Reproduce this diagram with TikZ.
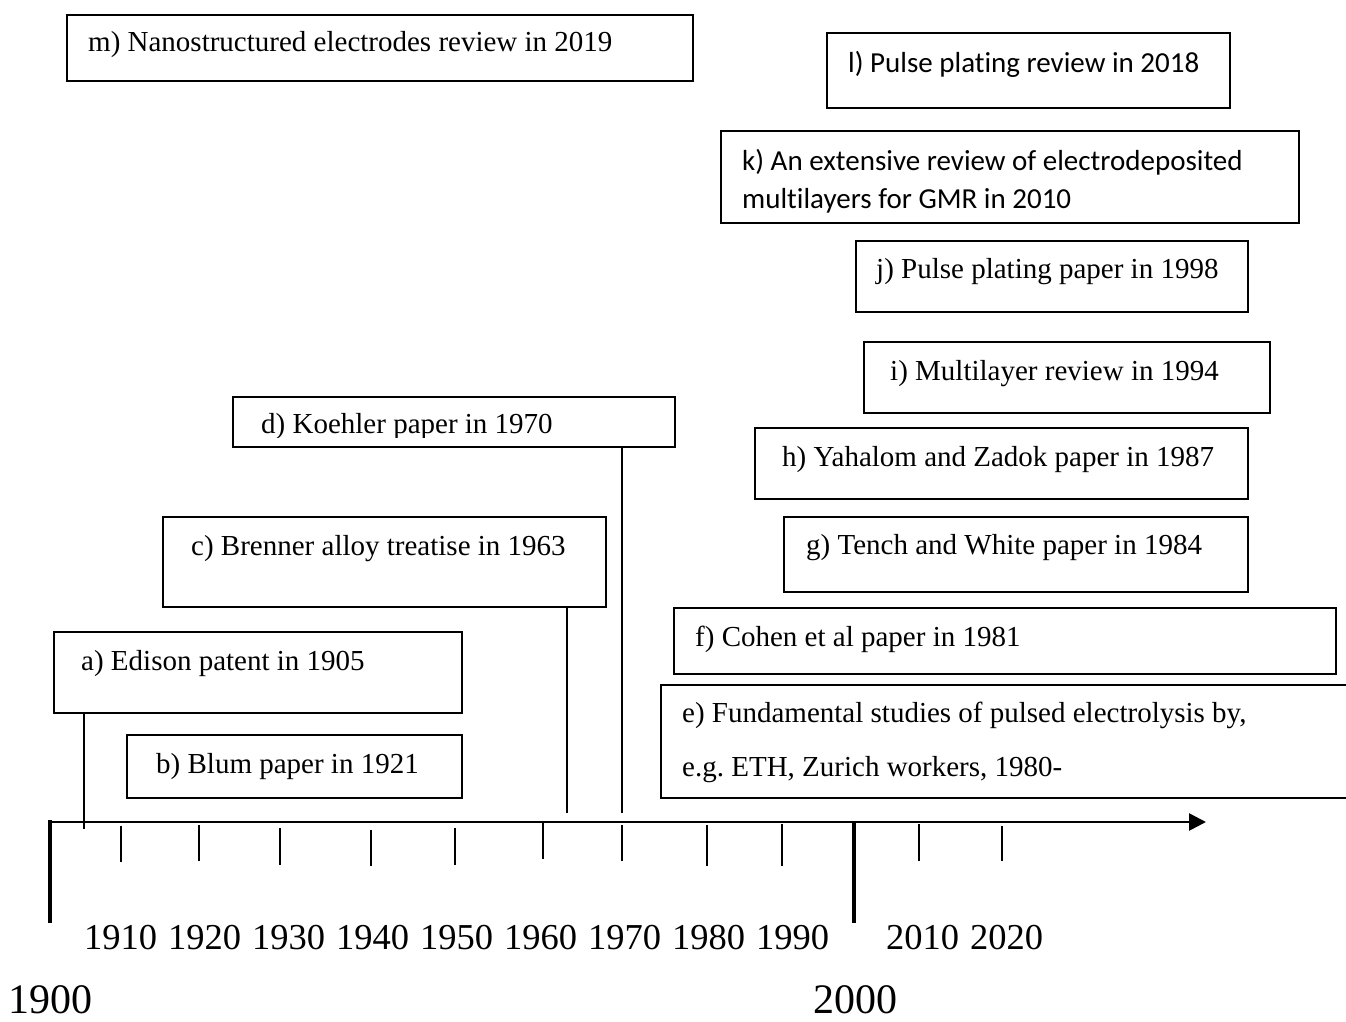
\documentclass[tikz,border=0pt]{standalone}
\usepackage{fontspec}
\setmainfont{Liberation Serif}
\newfontfamily\calib[Ligatures=NoCommon]{Carlito}
\usetikzlibrary{arrows.meta}
\frenchspacing
\begin{document}
\begin{tikzpicture}[x=1pt,y=-1pt,
  box/.style={draw=black, line width=2.2pt, rectangle, inner sep=0pt, anchor=north west},
  txt/.style={inner sep=0pt, anchor=base west, font=\fontsize{29}{35}\selectfont},
  stxt/.style={inner sep=0pt, anchor=base west, font=\calib\fontsize{29}{35}\selectfont},
  yr/.style={inner sep=0pt, anchor=base west, font=\fontsize{36.5}{44}\selectfont},
  bigyr/.style={inner sep=0pt, anchor=base west, font=\fontsize{42}{50}\selectfont},
  conn/.style={line width=1.8pt},
  tickmark/.style={line width=1.8pt},
  bigtick/.style={line width=3.6pt}
]
\clip (0,0) rectangle (1346,1022);
\fill[white] (0,0) rectangle (1346,1022);

% boxes
\node[box, minimum width=626pt, minimum height=66pt] (m) at (66,14) {};
\node[txt] (mt) at (88,52) {m) Nanostructured electrodes review in 2019};

\node[box, minimum width=403pt, minimum height=75pt] (l) at (826,32) {};
\node[stxt] (lt) at (848,73) {l) Pulse plating review in 2018};

\node[box, minimum width=578pt, minimum height=92pt] (k) at (720,130) {};
\node[stxt] (kt1) at (742,170) {k) An extensive review of electrodeposited};
\node[stxt] (kt2) at (742,208) {multilayers for GMR in 2010};

\node[box, minimum width=392pt, minimum height=71pt] (j) at (855,240) {};
\node[txt] (jt) at (876,278) {j) Pulse plating paper in 1998};

\node[box, minimum width=406pt, minimum height=71pt] (i) at (863,341) {};
\node[txt] (it) at (890,380) {i) Multilayer review in 1994};

\node[box, minimum width=442pt, minimum height=50pt] (d) at (232,396) {};
\begin{scope}
  \clip (234,398) rectangle (672,437);
  \node[txt] (dt) at (261,433) {d) Koehler paper in 1970};
\end{scope}

\node[box, minimum width=493pt, minimum height=71pt] (h) at (754,427) {};
\node[txt] (ht) at (782,466) {h) Yahalom and Zadok paper in 1987};

\node[box, minimum width=443pt, minimum height=90pt] (c) at (162,516) {};
\node[txt] (ct) at (191,555) {c) Brenner alloy treatise in 1963};

\node[box, minimum width=464pt, minimum height=75pt] (g) at (783,516) {};
\node[txt] (gt) at (806,554) {g) Tench and White paper in 1984};

\node[box, minimum width=662pt, minimum height=66pt] (f) at (673,607) {};
\node[txt] (ft) at (695,646) {f) Cohen et al paper in 1981};

\node[box, minimum width=408pt, minimum height=81pt] (a) at (53,631) {};
\node[txt] (at) at (81,670) {a) Edison patent in 1905};

\node[box, minimum width=730pt, minimum height=113pt] (e) at (660,684) {};
\node[txt] (et1) at (682,722) {e) Fundamental studies of pulsed electrolysis by,};
\node[txt] (et2) at (682,776) {e.g. ETH, Zurich workers, 1980-};

\node[box, minimum width=335pt, minimum height=63pt] (b) at (126,734) {};
\node[txt] (bt) at (156,773) {b) Blum paper in 1921};

% axis
\coordinate (O) at (50,822);
\coordinate (AxEnd) at (1206,822);
\coordinate (Y1900) at (50,923);
\coordinate (Y2000top) at (854,822);
\coordinate (Y2000) at (854,923);
\draw[bigtick] (Y1900) -- ([yshift=1.8pt]O);
\draw[line width=2.6pt, -{Triangle[length=17pt,width=17pt]}] (O) -- (AxEnd);
\draw[bigtick] (Y2000top) -- (Y2000);

% connectors from boxes to axis
\coordinate (aEnd) at (84,829);
\coordinate (cEnd) at (567,813);
\coordinate (dEnd) at (622,813);
\draw[conn] (a.south -| aEnd) -- (aEnd);
\draw[conn] (c.south -| cEnd) -- (cEnd);
\draw[conn] (d.south -| dEnd) -- (dEnd);

% ticks
\foreach \x/\ya/\yb in {121/826/862, 199/825/861, 280/828/865, 371/830/866, 455/828/865,
  543/822/859, 622/825/861, 707/825/866, 782/824/866, 919/824/861, 1002/826/861}
  \draw[tickmark] (\x,\ya) -- (\x,\yb);

% year labels
\foreach \yy [count=\n from 0] in {1910,1920,1930,1940,1950,1960,1970,1980,1990}
  \node[yr] (y\yy) at ({84+84*\n},949) {\yy};
\node[yr] (y2010) at (886,949) {2010};
\node[yr] (y2020) at (970,949) {2020};
\node[bigyr] (y1900) at (8,1013) {1900};
\node[bigyr] (y2000) at (813,1013) {2000};
\end{tikzpicture}
\end{document}
